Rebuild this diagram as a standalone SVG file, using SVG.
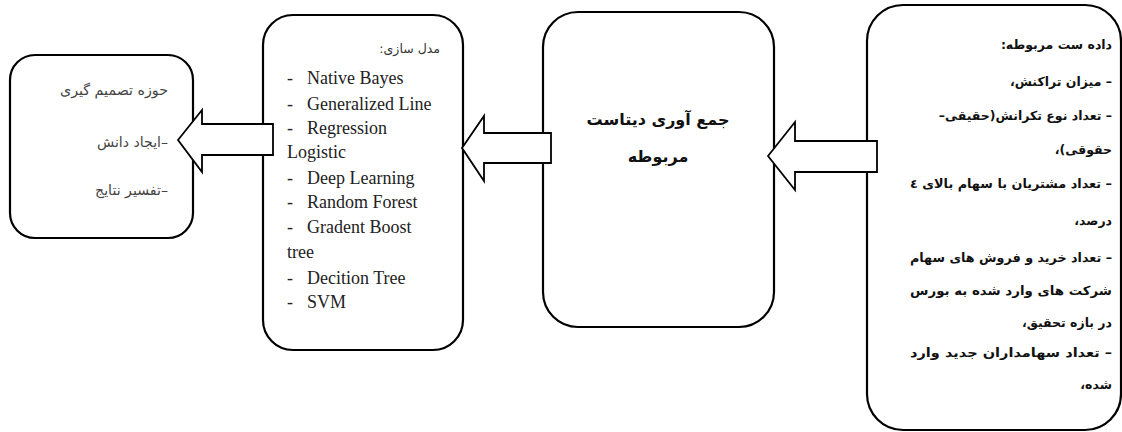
<svg xmlns="http://www.w3.org/2000/svg" width="1122" height="432" viewBox="0 0 1122 432">
<style>
.box{fill:#fff;stroke:#000;stroke-width:2.2}
.arrow{fill:#fff;stroke:#000;stroke-width:1.8;stroke-linejoin:miter}
.fa{font-family:"DejaVu Sans","Noto Sans",sans-serif;direction:rtl;unicode-bidi:embed}
.rt{font-size:12.5px;font-weight:bold;fill:#111}
.lt{font-size:14px;fill:#444}
.en{font-family:"Liberation Serif","Times New Roman",serif;font-size:18px;fill:#222}
.mid{font-size:16px;font-weight:bold;fill:#111}
</style>
<rect width="1122" height="432" fill="#fff"/>
<g id="node-data">
<rect class="box" x="867" y="5" width="254" height="425" rx="36" ry="36"/>
<text class="fa rt" x="1112" y="49" text-anchor="start">داده ست مربوطه:</text>
<text class="fa rt" x="1112" y="86" text-anchor="start">– میزان تراکنش،</text>
<text class="fa rt" x="1112" y="120" text-anchor="start">– تعداد نوع  تکرانش(حقیقی–</text>
<text class="fa rt" x="1112" y="154" text-anchor="start">حقوقی)،</text>
<text class="fa rt" x="1112" y="188" text-anchor="start" textLength="202" lengthAdjust="spacingAndGlyphs">– تعداد مشتریان با سهام بالای ٤</text>
<text class="fa rt" x="1112" y="225" text-anchor="start">درصد،</text>
<text class="fa rt" x="1112" y="262" text-anchor="start" textLength="202" lengthAdjust="spacingAndGlyphs">– تعداد خرید و فروش های سهام</text>
<text class="fa rt" x="1112" y="295" text-anchor="start" textLength="202" lengthAdjust="spacingAndGlyphs">شرکت های وارد شده  به بورس</text>
<text class="fa rt" x="1112" y="327" text-anchor="start">در بازه تحقیق،</text>
<text class="fa rt" x="1112" y="357" text-anchor="start" textLength="202" lengthAdjust="spacingAndGlyphs">– تعداد سهامداران جدید وارد</text>
<text class="fa rt" x="1112" y="389" text-anchor="start">شده،</text>
</g>
<g id="node-collect">
<rect class="box" x="543" y="12" width="231" height="315" rx="35" ry="35"/>
<text class="fa mid" x="658" y="125" text-anchor="middle">جمع آوری دیتاست</text>
<text class="fa mid" x="658" y="162" text-anchor="middle">مربوطه</text>
</g>
<g id="node-model">
<rect class="box" x="263" y="15" width="200" height="335" rx="30" ry="30"/>
<text class="fa lt" x="440" y="53" text-anchor="start" style="fill:#333;font-size:12.5px">مدل سازی:</text>
<g class="en">
<text x="287" y="84">-</text><text x="307" y="84">Native Bayes</text>
<text x="287" y="110">-</text><text x="307" y="110">Generalized Line</text>
<text x="287" y="134">-</text><text x="307" y="134">Regression</text>
<text x="287" y="158">Logistic</text>
<text x="287" y="184">-</text><text x="307" y="184">Deep Learning</text>
<text x="287" y="208">-</text><text x="307" y="208">Random Forest</text>
<text x="287" y="233">-</text><text x="307" y="233">Gradent Boost</text>
<text x="287" y="258">tree</text>
<text x="287" y="284">-</text><text x="307" y="284">Decition Tree</text>
<text x="287" y="308">-</text><text x="307" y="308">SVM</text>
</g>
</g>
<g id="node-decision">
<rect class="box" x="10" y="55" width="183" height="183" rx="25" ry="25"/>
<text class="fa lt" x="168" y="95" text-anchor="start" textLength="108" lengthAdjust="spacingAndGlyphs">حوزه تصمیم گیری</text>
<text class="fa lt" x="168" y="147" text-anchor="start" textLength="71" lengthAdjust="spacingAndGlyphs">–ایجاد دانش</text>
<text class="fa lt" x="168" y="195" text-anchor="start" textLength="73" lengthAdjust="spacingAndGlyphs">–تفسیر نتایج</text>
</g>
<g id="connectors">
<polygon class="arrow" points="768,156 795,122 795,141 877,141 877,172 795,172 795,190"/>
<polygon class="arrow" points="462,148 484,116 484,133 551,133 551,163 484,163 484,181"/>
<polygon class="arrow" points="178,140 202,110 202,124 273,124 273,155 202,155 202,172"/>
</g>
</svg>
